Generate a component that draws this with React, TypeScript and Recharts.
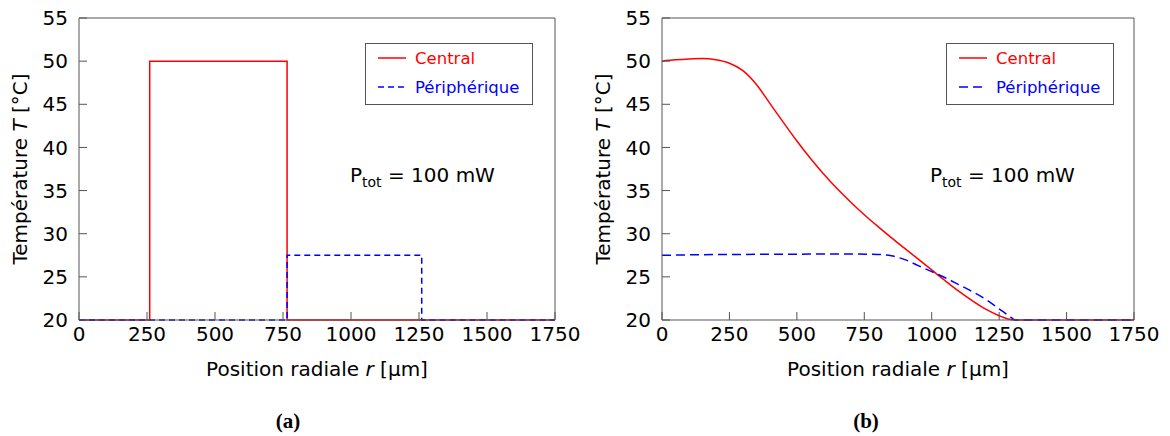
import { LineChart, Line, XAxis, YAxis, Legend } from 'recharts';

// (a) step profiles of the two heaters
const stepCentralPos = [0, 260, 260, 765, 765, 1750];
const stepCentralTemp = [20, 20, 50, 50, 20, 20];
const stepPeriphPos = [0, 765, 765, 1260, 1260, 1750];
const stepPeriphTemp = [20, 20, 27.5, 27.5, 20, 20];

// (b) computed temperature profiles
const profCentralPos = [0, 50, 100, 150, 200, 250, 300, 350, 400, 450, 500, 550, 600, 650, 700, 750, 800, 850, 900, 950, 1000, 1050, 1100, 1150, 1200, 1250, 1280, 1310, 1400, 1750];
const profCentralTemp = [50.0, 50.15, 50.25, 50.3, 50.15, 49.75, 48.9, 47.3, 45.1, 42.9, 40.75, 38.75, 36.9, 35.2, 33.65, 32.2, 30.85, 29.55, 28.3, 27.05, 25.8, 24.55, 23.35, 22.25, 21.25, 20.5, 20.15, 20.0, 20.0, 20.0];
const profPeriphPos = [0, 100, 200, 300, 400, 500, 600, 700, 800, 850, 900, 950, 1000, 1050, 1100, 1150, 1200, 1250, 1290, 1310, 1400, 1750];
const profPeriphTemp = [27.5, 27.55, 27.58, 27.6, 27.62, 27.63, 27.64, 27.65, 27.6, 27.45, 27.0, 26.3, 25.6, 24.9, 24.1, 23.3, 22.4, 21.3, 20.4, 20.0, 20.0, 20.0];

const xTicks = [0, 250, 500, 750, 1000, 1250, 1500, 1750];
const yTicks = [20, 25, 30, 35, 40, 45, 50, 55];
const seriesNames = ['Central', 'Périphérique'];
const powerLabel = '100 mW';

const toPoints = (xs: number[], ts: number[]) => xs.map((x, i) => ({ x, t: ts[i] }));

const FONT = '"DejaVu Sans", sans-serif';
const FRAME = '#555';
const RED = '#ff0000';
const BLUE = '#0000ff';

const LegendBox = ({ payload, dash }: any) => {
    const items = payload || [];
    return (
        <svg width={168} height={62} style={{ display: 'block' }}>
            <rect x={0.5} y={0.5} width={167} height={61} fill="#fff" stroke={FRAME} strokeWidth={1} />
            {items.map((item: any, i: number) => {
                const y = i === 0 ? 15 : 44;
                return (
                    <g key={item.value}>
                        <line x1={13} x2={41} y1={y} y2={y} stroke={item.color} strokeWidth={1.5}
                            strokeDasharray={i === 1 ? dash : undefined} />
                        <text x={50} y={y + 6} fill={item.color} fontSize={16.5} fontFamily={FONT}>{item.value}</text>
                    </g>
                );
            })}
        </svg>
    );
};

interface PanelProps {
    central: { x: number; t: number }[];
    periph: { x: number; t: number }[];
    smooth: boolean;
    dash: string;
    left: number;
    plotLeft: number;
    plotRight: number;
    legendLeft: number;
    powerX: number;
    caption: string;
    captionX: number;
}

function Panel({ central, periph, smooth, dash, left, plotLeft, plotRight, legendLeft, powerX, caption, captionX }: PanelProps) {
    const W = 585;
    const H = 436;
    const midX = (plotLeft + plotRight) / 2;
    const axisProps = { axisLine: { stroke: FRAME }, tickLine: { stroke: FRAME } };
    // axes are 1px thick so that they get drawn; margins compensate
    return (
        <div style={{ position: 'absolute', left, top: 0 }}>
            <LineChart width={W} height={H}
                margin={{ top: 17, left: plotLeft - 1, right: W - plotRight - 1, bottom: H - 320 - 1 }}
                style={{ fontFamily: FONT }}>
                <XAxis dataKey="x" type="number" domain={[0, 1750]} ticks={xTicks}
                    height={1} tickSize={-8} tickMargin={15} {...axisProps}
                    tick={{ fontSize: 20, fill: '#000', fontFamily: FONT }} />
                <XAxis xAxisId="top" orientation="top" type="number" domain={[0, 1750]} ticks={xTicks}
                    height={1} tickSize={-8} tick={false} {...axisProps} />
                <YAxis type="number" domain={[20, 55]} ticks={yTicks} width={1} tickSize={-8} tickMargin={19}
                    {...axisProps} tick={{ fontSize: 20, fill: '#000', fontFamily: FONT }} />
                <YAxis yAxisId="right" orientation="right" type="number" domain={[20, 55]} ticks={yTicks}
                    width={1} tickSize={-8} tick={false} {...axisProps} />
                <Line data={central} dataKey="t" name={seriesNames[0]} type={smooth ? 'monotone' : 'linear'}
                    stroke={RED} strokeWidth={1.5} dot={false} isAnimationActive={false} />
                <Line data={periph} dataKey="t" name={seriesNames[1]} type={smooth ? 'monotone' : 'linear'}
                    stroke={BLUE} strokeWidth={1.5} strokeDasharray={dash} dot={false} isAnimationActive={false} />
                <Legend layout="vertical" align="center" verticalAlign="middle"
                    wrapperStyle={{ left: legendLeft, top: 43, width: 168, height: 62 }}
                    content={(p: any) => <LegendBox payload={p.payload} dash={dash} />} />
                <g>
                    <text x={powerX} y={182} fontSize={20} fontFamily={FONT} fill="#000">
                        P<tspan dy={4.5} fontSize={14}>tot</tspan><tspan dy={-4.5}> = {powerLabel}</tspan>
                    </text>
                    <text x={midX} y={376} fontSize={20} fontFamily={FONT} fill="#000" textAnchor="middle">
                        Position radiale <tspan fontStyle="italic">r</tspan> [µm]
                    </text>
                    <text transform={`translate(${plotLeft - 52}, 169) rotate(-90)`} fontSize={20} fontFamily={FONT}
                        fill="#000" textAnchor="middle">
                        Température <tspan fontStyle="italic">T</tspan> [°C]
                    </text>
                    <text x={captionX} y={428} fontSize={21} fontWeight="bold" fontFamily='"Liberation Serif", serif'
                        fill="#000" textAnchor="middle">{caption}</text>
                </g>
            </LineChart>
        </div>
    );
}

export default function App() {
    return (
        <div style={{ position: 'absolute', left: 0, top: 0, width: 1170, height: 436, background: '#fff' }}>
            <Panel central={toPoints(stepCentralPos, stepCentralTemp)} periph={toPoints(stepPeriphPos, stepPeriphTemp)}
                smooth={false} dash="6 4" left={0} plotLeft={79} plotRight={555} legendLeft={365}
                powerX={350} caption="(a)" captionX={288} />
            <Panel central={toPoints(profCentralPos, profCentralTemp)} periph={toPoints(profPeriphPos, profPeriphTemp)}
                smooth={true} dash="9 5" left={585} plotLeft={77} plotRight={549} legendLeft={361}
                powerX={345} caption="(b)" captionX={281} />
        </div>
    );
}
